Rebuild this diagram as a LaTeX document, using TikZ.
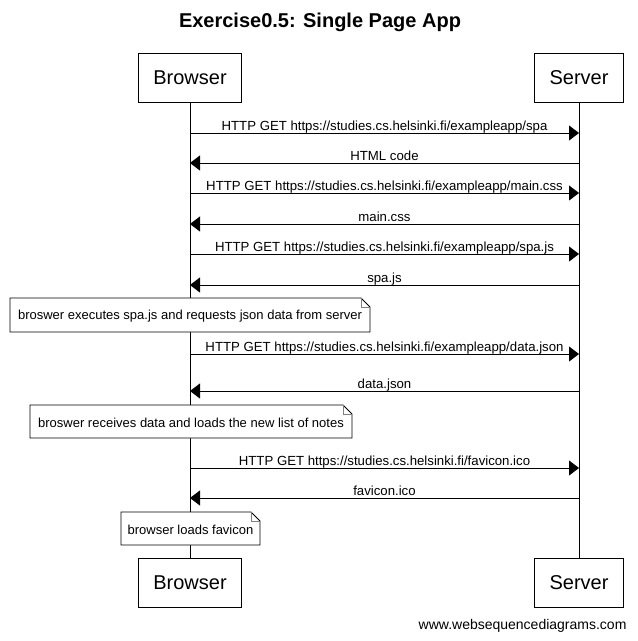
\documentclass[tikz,border=0pt]{standalone}
\usepackage{fontspec}
\setmainfont{Liberation Sans}
\usetikzlibrary{arrows.meta}
\begin{document}
\begin{tikzpicture}[x=1pt,y=-1pt,
  part/.style={draw,line width=0.8pt,minimum width=103pt,minimum height=49pt,inner sep=0pt,font=\fontsize{20}{20}\selectfont},
  lifeline/.style={line width=0.8pt},
  msg/.style={line width=0.8pt,-{Triangle[length=10pt,width=15pt]}},
  lbl/.style={font=\fontsize{13.2}{13.2}\selectfont,inner sep=0pt,anchor=base},
  notetext/.style={font=\fontsize{13}{13}\selectfont,inner sep=0pt}
]
\useasboundingbox (0,0) rectangle (638,641);
\fill[white] (0,0) rectangle (638,641);
\node[font=\bfseries\fontsize{20}{20}\selectfont] (title) at (320,22) {Exercise0.5: Single Page App};
\node[part] (bt) at (190,77.5) {Browser};
\node[part,minimum width=89pt] (st) at (579,77.5) {Server};
\node[part] (bb) at (190,582.5) {Browser};
\node[part,minimum width=89pt] (sb) at (579,582.5) {Server};
\draw[lifeline] (bt.south) -- (bb.north);
\draw[lifeline] (st.south) -- (sb.north);
% messages
\newcommand{\msgR}[3]{%
  \coordinate (l#1) at (190,#2); \coordinate (r#1) at (579,#2);
  \draw[msg] (l#1) -- (r#1);
  \node[lbl] (t#1) at (384.5,#2-3) {#3};}
\newcommand{\msgL}[3]{%
  \coordinate (l#1) at (190,#2); \coordinate (r#1) at (579,#2);
  \draw[msg] (r#1) -- (l#1);
  \node[lbl] (t#1) at (384.5,#2-3) {#3};}
\msgR{1}{133}{HTTP GET https://studies.cs.helsinki.fi/exampleapp/spa}
\msgL{2}{163}{HTML code}
\msgR{3}{193}{HTTP GET https://studies.cs.helsinki.fi/exampleapp/main.css}
\msgL{4}{224}{main.css}
\msgR{5}{254}{HTTP GET https://studies.cs.helsinki.fi/exampleapp/spa.js}
\msgL{6}{285}{spa.js}
\msgR{7}{354}{HTTP GET https://studies.cs.helsinki.fi/exampleapp/data.json}
\msgL{8}{391}{data.json}
\msgR{9}{468}{HTTP GET https://studies.cs.helsinki.fi/favicon.ico}
\msgL{10}{498}{favicon.ico}
% notes
\newcommand{\notebox}[6]{%
  \fill[white] (#2,#3) -- (#4-9,#3) -- (#4,#3+9) -- (#4,#5) -- (#2,#5) -- cycle;
  \draw[line width=0.8pt] (#2,#3) -- (#4-9,#3) -- (#4,#3+9) -- (#4,#5) -- (#2,#5) -- cycle;
  \draw[line width=0.6pt,gray] (#4-9,#3) -- (#4-9,#3+9) -- (#4,#3+9);
  \node[notetext] (n#1) at ({(#2+#4)/2},{(#3+#5)/2+1}) {#6};}
\notebox{1}{10}{298}{370}{332}{broswer executes spa.js and requests json data from server}
\notebox{2}{30}{405}{352}{438}{broswer receives data and loads the new list of notes}
\notebox{3}{121}{512}{260}{545}{browser loads favicon}
\node[font=\fontsize{14}{14}\selectfont,anchor=east] (wm) at (630,626) {www.websequencediagrams.com};
\end{tikzpicture}
\end{document}
